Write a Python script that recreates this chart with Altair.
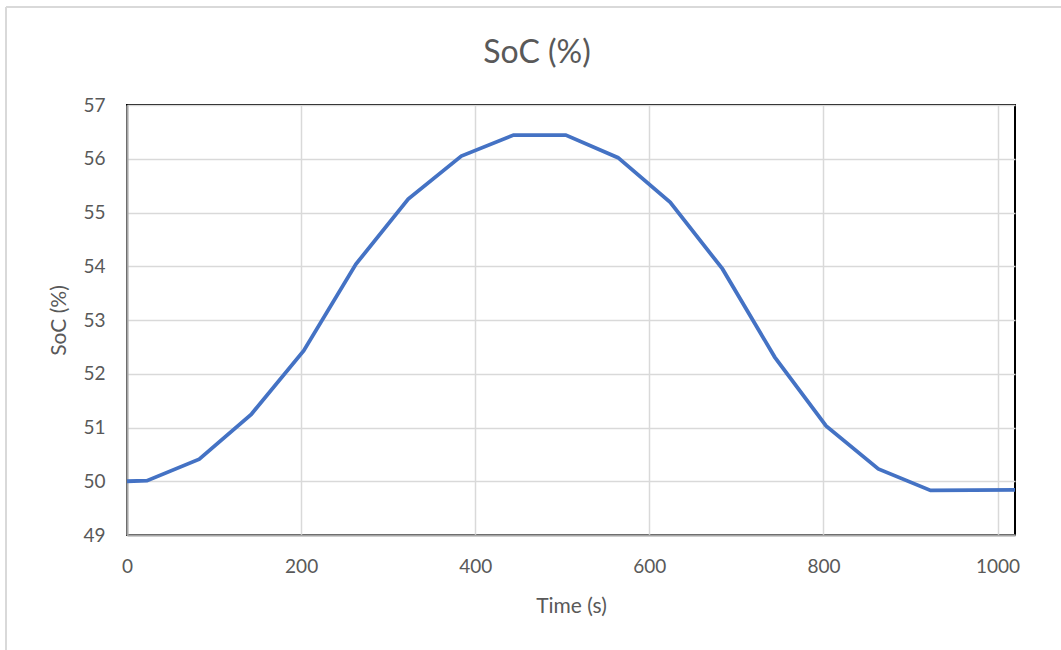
import altair as alt
import pandas as pd

time_s = [0, 23, 83, 143, 203, 263, 323, 384, 444, 504, 564, 624, 684, 744, 803, 863, 923, 1020]
soc = [50.0, 50.01, 50.41, 51.25, 52.43, 54.04, 55.25, 56.05, 56.44, 56.44, 56.02, 55.19,
       53.95, 52.31, 51.03, 50.23, 49.83, 49.84]
chart_title = "SoC (%)"

df = pd.DataFrame({"t": time_s, "soc": soc})

FONT = "Lato"
GREY = "#595959"

line = alt.Chart(df).mark_line(color="#4472c4", strokeWidth=3.8).encode(
    x=alt.X("t:Q", title="Time (s)",
            scale=alt.Scale(domain=[0, 1020], nice=False, zero=False),
            axis=alt.Axis(values=[0, 200, 400, 600, 800, 1000], format="d",
                          labelFlush=False, labelPadding=22, titlePadding=19)),
    y=alt.Y("soc:Q", title="SoC (%)",
            scale=alt.Scale(domain=[49, 57], nice=False, zero=False),
            axis=alt.Axis(values=[49, 50, 51, 52, 53, 54, 55, 56, 57], format="d",
                          labelFlush=False, labelPadding=22, titlePadding=13)),
)

single = alt.Chart(alt.Data(values=[{}]))
left_border = single.mark_rule(color="#d9d9d9", strokeWidth=2).encode(
    x=alt.value(-121), y=alt.value(-98), y2=alt.value(545))
top_border = single.mark_rule(color="#d9d9d9", strokeWidth=2).encode(
    x=alt.value(-121), x2=alt.value(934), y=alt.value(-98))
title_text = single.mark_text(font=FONT, fontSize=32, color=GREY, align="center",
                              baseline="alphabetic").encode(
    x=alt.value(410), y=alt.value(-42), text=alt.value(chart_title))

chart = alt.layer(left_border, top_border, title_text, line).properties(
    width=888, height=430,
    autosize=alt.AutoSizeParams(type="none"),
    padding={"left": 127, "top": 105, "right": 46, "bottom": 115},
    background="white",
).configure_view(
    stroke="black", strokeWidth=2
).configure_axis(
    labelFont=FONT, titleFont=FONT, labelColor=GREY, titleColor=GREY,
    labelFontSize=19, titleFontSize=21, titleFontWeight="normal",
    gridColor="#d9d9d9", gridWidth=1.5, ticks=False,
    domainColor="#a6a6a6", domainWidth=2,
)

chart.save("out.html", embed_options={"renderer": "svg", "actions": False})
